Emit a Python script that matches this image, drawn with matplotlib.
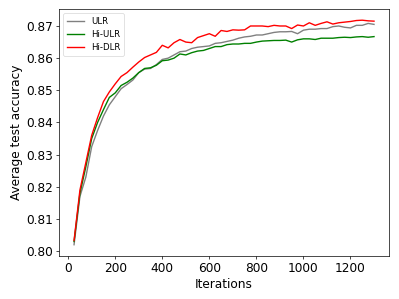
import numpy as np
import matplotlib
matplotlib.use('Agg')
import matplotlib.pyplot as plt

iterations = np.arange(25, 1301, 25)

ulr = [0.8020, 0.8170, 0.8230, 0.8325, 0.8375, 0.8420, 0.8455, 0.8480, 0.8505, 0.8518,
       0.8532, 0.8555, 0.8566, 0.8568, 0.8580, 0.8596, 0.8600, 0.8610, 0.8620, 0.8622,
       0.8630, 0.8634, 0.8636, 0.8638, 0.8646, 0.8648, 0.8652, 0.8656, 0.8662, 0.8666,
       0.8668, 0.8672, 0.8672, 0.8676, 0.8680, 0.8682, 0.8682, 0.8683, 0.8676, 0.8687,
       0.8690, 0.8690, 0.8692, 0.8692, 0.8698, 0.8700, 0.8696, 0.8694, 0.8702, 0.8702,
       0.8708, 0.8705]

hi_ulr = [0.8030, 0.8180, 0.8262, 0.8350, 0.8400, 0.8440, 0.8478, 0.8492, 0.8515, 0.8525,
          0.8538, 0.8555, 0.8568, 0.8570, 0.8578, 0.8592, 0.8594, 0.8600, 0.8613, 0.8610,
          0.8617, 0.8622, 0.8624, 0.8630, 0.8636, 0.8636, 0.8642, 0.8644, 0.8644, 0.8646,
          0.8646, 0.8650, 0.8653, 0.8654, 0.8655, 0.8655, 0.8656, 0.8650, 0.8657, 0.8660,
          0.8660, 0.8658, 0.8662, 0.8662, 0.8662, 0.8664, 0.8665, 0.8664, 0.8666, 0.8667,
          0.8665, 0.8667]

hi_dlr = [0.8033, 0.8190, 0.8275, 0.8360, 0.8415, 0.8465, 0.8495, 0.8520, 0.8543, 0.8555,
          0.8572, 0.8588, 0.8602, 0.8610, 0.8618, 0.8640, 0.8632, 0.8648, 0.8658, 0.8650,
          0.8648, 0.8664, 0.8670, 0.8676, 0.8668, 0.8686, 0.8683, 0.8688, 0.8687, 0.8688,
          0.8700, 0.8700, 0.8700, 0.8698, 0.8702, 0.8700, 0.8700, 0.8692, 0.8703, 0.8700,
          0.8710, 0.8702, 0.8708, 0.8713, 0.8706, 0.8710, 0.8712, 0.8714, 0.8717, 0.8718,
          0.8716, 0.8715]

# original looks like a bigger figure scaled down, so shrink everything a bit
s = 0.623
plt.rcParams['axes.linewidth'] = 0.8 * s
plt.rcParams['xtick.major.size'] = 3.5 * s
plt.rcParams['ytick.major.size'] = 3.5 * s
plt.rcParams['xtick.major.width'] = 0.8 * s
plt.rcParams['ytick.major.width'] = 0.8 * s
plt.rcParams['xtick.major.pad'] = 3.5 * s
plt.rcParams['ytick.major.pad'] = 3.5 * s

fig = plt.figure(figsize=(3.99, 2.99), dpi=100)
ax = fig.add_subplot(111)
fig.subplots_adjust(left=0.148, right=0.975, top=0.970, bottom=0.144)

lw = 1.6 * s
ax.plot(iterations, ulr, color='gray', lw=lw, label='ULR')
ax.plot(iterations, hi_ulr, color='green', lw=lw, label='Hi-ULR')
ax.plot(iterations, hi_dlr, color='red', lw=lw, label='Hi-DLR')

ax.set_xlabel('Iterations', fontsize=14 * s, labelpad=4 * s)
ax.set_ylabel('Average test accuracy', fontsize=14 * s, labelpad=4 * s)
ax.set_xticks(np.arange(0, 1201, 200))
ax.set_yticks(np.arange(0.80, 0.871, 0.01))
ax.tick_params(labelsize=14 * s)
leg = ax.legend(loc='upper left', fontsize=10 * s)
leg.get_frame().set_linewidth(0.8 * s)

fig.savefig('out.png', dpi=100)
